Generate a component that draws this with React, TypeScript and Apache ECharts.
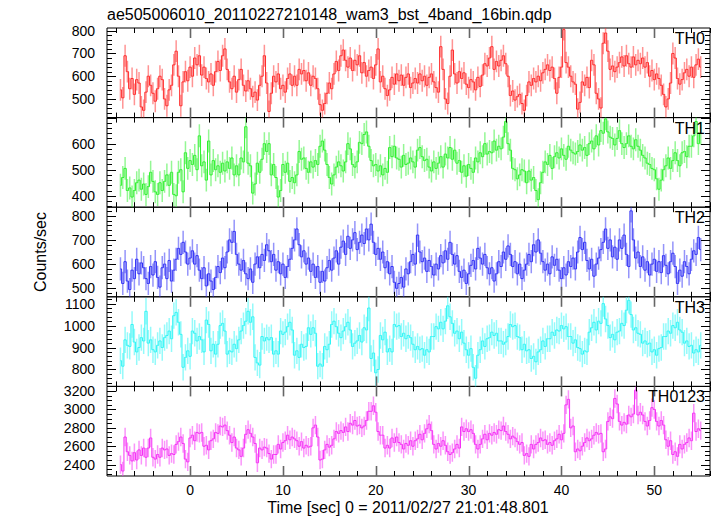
import React, { useEffect, useRef } from "react";
import * as echarts from "echarts";

const TITLE = "ae505006010_20110227210148_wam3_bst_4band_16bin.qdp";
const X_NAME = "Time [sec] 0 = 2011/02/27 21:01:48.801";
const Y_NAME = "Counts/sec";
const PANEL_NAMES = ["TH0", "TH1", "TH2", "TH3", "TH0123"];

const T_START = -7.5;
const BIN = 0.25;
const X_MIN = -8.95;
const X_MAX = 56.0;
const X_LABELS = [0, 10, 20, 30, 40, 50];

const Y_MIN = [418, 356, 465, 723, 2276];
const Y_MAX = [812, 700, 835, 1131, 3251];
const Y_LABELS = [
  [500, 600, 700, 800],
  [400, 500, 600],
  [500, 600, 700, 800],
  [800, 900, 1000, 1100],
  [2400, 2600, 2800, 3000, 3200],
];
const Y_MINOR_STEP = [20, 20, 20, 20, 50];
const ERR_HALF = [48, 44, 48, 60, 100];

const th0 = [
  540, 505, 690, 620, 545, 590, 520, 585, 570, 465, 450, 530, 600, 560, 525, 490,
  545, 600, 585, 500, 470, 540, 560, 650, 710, 600, 470, 575, 620, 580, 640, 600,
  680, 650, 690, 605, 640, 590, 575, 610, 560, 620, 665, 625, 690, 720, 630, 575,
  545, 600, 530, 585, 630, 560, 535, 580, 545, 510, 530, 495, 560, 600, 690, 570,
  445, 525, 600, 575, 610, 545, 560, 530, 590, 610, 560, 600, 560, 630, 610, 625,
  580, 615, 560, 600, 590, 545, 475, 450, 480, 525, 570, 545, 610, 665, 625, 690,
  715, 670, 640, 680, 625, 670, 650, 690, 615, 660, 600, 625, 640, 590, 650, 720,
  575, 600, 545, 515, 540, 595, 565, 610, 580, 605, 560, 595, 610, 550, 570, 590,
  570, 610, 580, 600, 560, 595, 610, 575, 550, 530, 730, 630, 500, 480, 600, 715,
  610, 570, 620, 590, 615, 565, 550, 585, 575, 540, 595, 555, 605, 655, 645, 680,
  730, 630, 665, 645, 670, 690, 655, 600, 515, 535, 495, 510, 520, 480, 450, 515,
  575, 560, 590, 575, 600, 580, 615, 630, 650, 625, 640, 590, 525, 595, 640, 805,
  660, 640, 600, 575, 565, 455, 485, 575, 560, 595, 550, 670, 650, 525, 500, 460,
  745, 790, 710, 630, 645, 620, 640, 660, 685, 645, 690, 655, 640, 685, 650, 670,
  655, 680, 640, 660, 600, 625, 585, 610, 590, 560, 520, 465, 500, 570, 700, 680,
  590, 565, 585, 615, 630, 600, 640, 595, 650, 675, 640,
];

const th1 = [
  440, 470, 505, 420, 430, 395, 420, 450, 460, 425, 445, 405, 435, 490, 455, 415,
  405, 450, 420, 455, 480, 440, 490, 405, 400, 490, 500, 415, 565, 505, 535, 520,
  555, 500, 630, 515, 530, 460, 610, 480, 535, 500, 515, 490, 525, 495, 530, 505,
  545, 480, 515, 480, 545, 530, 665, 525, 515, 410, 445, 525, 490, 540, 600, 570,
  600, 480, 520, 470, 395, 420, 520, 490, 525, 455, 470, 450, 480, 570, 540, 545,
  505, 490, 530, 510, 535, 520, 590, 610, 575, 520, 470, 445, 480, 510, 530, 515,
  495, 530, 600, 580, 520, 510, 530, 605, 600, 635, 645, 590, 535, 515, 520, 495,
  515, 480, 505, 490, 585, 550, 590, 545, 540, 510, 555, 520, 525, 545, 530, 510,
  575, 585, 550, 535, 540, 510, 495, 530, 505, 525, 550, 510, 560, 545, 585, 540,
  575, 525, 535, 490, 515, 475, 520, 505, 490, 545, 530, 565, 550, 600, 560, 570,
  565, 610, 575, 590, 580, 625, 685, 600, 575, 505, 500, 465, 480, 500, 495, 450,
  495, 460, 470, 420, 385, 450, 490, 530, 520, 555, 505, 550, 565, 545, 580, 555,
  540, 590, 575, 565, 560, 570, 595, 575, 585, 555, 600, 610, 580, 630, 595, 650,
  640, 695, 645, 625, 620, 595, 620, 650, 600, 585, 600, 630, 590, 580, 615, 590,
  575, 555, 545, 525, 520, 505, 500, 465, 425, 460, 500, 515, 545, 505, 535, 565,
  535, 515, 565, 570, 550, 590, 590, 630, 685, 600, 640,
];

const th2 = [
  580, 520, 610, 530, 495, 575, 540, 620, 560, 605, 585, 540, 520, 590, 555, 610,
  545, 505, 585, 600, 540, 615, 530, 575, 620, 665, 640, 690, 650, 600, 625, 655,
  600, 635, 575, 540, 585, 510, 560, 530, 495, 545, 590, 565, 625, 585, 650, 700,
  690, 735, 640, 600, 575, 615, 560, 540, 580, 525, 600, 630, 585, 640, 615, 680,
  655, 610, 640, 575, 610, 560, 600, 545, 590, 620, 665, 700, 745, 680, 630, 655,
  600, 625, 570, 600, 545, 590, 525, 570, 530, 585, 615, 575, 625, 655, 600, 670,
  695, 640, 715, 665, 700, 730, 660, 690, 720, 685, 745, 700, 765, 690, 640, 665,
  620, 650, 585, 610, 560, 590, 525, 500, 520, 545, 505, 580, 560, 610, 640, 600,
  720, 650, 610, 625, 570, 615, 590, 555, 600, 580, 635, 605, 655, 620, 690, 640,
  600, 635, 570, 545, 575, 520, 560, 595, 615, 580, 665, 625, 600, 640, 585, 560,
  585, 530, 560, 610, 590, 650, 620, 675, 640, 590, 610, 560, 600, 540, 575, 600,
  640, 610, 680, 650, 700, 645, 610, 575, 600, 560, 630, 595, 620, 575, 540, 585,
  555, 610, 590, 625, 580, 650, 710, 660, 690, 615, 580, 620, 550, 600, 625, 660,
  690, 745, 665, 700, 630, 670, 620, 700, 665, 720, 640, 590, 820, 700, 625, 650,
  590, 630, 575, 610, 555, 600, 620, 570, 610, 565, 635, 595, 560, 610, 645, 590,
  520, 575, 550, 610, 590, 560, 620, 655, 640, 710, 660,
];

const th3 = [
  840, 815, 935, 910, 905, 1005, 925, 880, 900, 945, 930, 1065, 920, 935, 890, 880,
  910, 930, 900, 945, 955, 975, 940, 1045, 1060, 1015, 960, 810, 855, 885, 860, 975,
  965, 930, 950, 935, 880, 1025, 1005, 885, 915, 870, 915, 1000, 1010, 975, 870, 885,
  880, 915, 895, 935, 975, 1000, 1020, 1065, 1015, 1040, 855, 830, 820, 950, 930, 945,
  935, 945, 870, 885, 870, 975, 960, 970, 995, 1015, 980, 865, 885, 855, 915, 900,
  905, 990, 960, 990, 965, 815, 825, 815, 905, 890, 915, 1005, 1020, 995, 965, 945,
  975, 995, 1015, 980, 905, 920, 930, 955, 925, 990, 980, 1080, 850, 875, 785, 800,
  955, 935, 970, 880, 895, 880, 1005, 995, 1000, 950, 965, 940, 955, 945, 915, 890,
  905, 890, 895, 865, 890, 880, 950, 950, 995, 985, 1015, 985, 1020, 1090, 1040, 1010,
  965, 975, 940, 970, 920, 890, 865, 895, 810, 760, 865, 890, 930, 905, 940, 945,
  970, 955, 965, 930, 930, 915, 925, 950, 1005, 995, 1000, 950, 945, 890, 915, 885,
  890, 850, 860, 835, 880, 890, 930, 905, 940, 940, 970, 955, 980, 975, 1000, 985,
  995, 950, 950, 920, 935, 900, 895, 870, 885, 880, 970, 990, 1015, 980, 1020, 1010,
  1100, 1030, 1000, 945, 960, 935, 970, 975, 1010, 1000, 1070, 1115, 1050, 980, 990, 965,
  960, 920, 930, 915, 920, 880, 890, 865, 895, 900, 950, 950, 975, 965, 1000, 990,
  1015, 980, 970, 920, 930, 905, 910, 875, 890, 880, 910,
];

const th0123 = [
  2400, 2330, 2700, 2540, 2500, 2440, 2530, 2450, 2560, 2500, 2580, 2480, 2580, 2690, 2480, 2460,
  2510, 2480, 2580, 2560, 2570, 2500, 2520, 2510, 2620, 2650, 2700, 2630, 2460, 2430, 2690, 2720,
  2660, 2750, 2740, 2750, 2600, 2610, 2560, 2660, 2680, 2750, 2740, 2820, 2810, 2830, 2770, 2720,
  2640, 2700, 2580, 2560, 2490, 2580, 2730, 2780, 2740, 2700, 2630, 2420, 2580, 2560, 2590, 2580,
  2520, 2460, 2510, 2510, 2620, 2570, 2640, 2660, 2720, 2670, 2700, 2680, 2660, 2600, 2650, 2580,
  2610, 2590, 2600, 2800, 2830, 2700, 2450, 2460, 2560, 2620, 2590, 2610, 2680, 2760, 2740, 2770,
  2750, 2810, 2760, 2850, 2830, 2880, 2820, 2830, 2800, 2820, 2880, 2980, 2980, 3040, 2970, 2760,
  2720, 2720, 2580, 2610, 2580, 2690, 2640, 2700, 2640, 2620, 2570, 2630, 2610, 2660, 2600, 2660,
  2680, 2730, 2670, 2740, 2790, 2840, 2770, 2620, 2570, 2630, 2600, 2660, 2610, 2540, 2510, 2530,
  2570, 2620, 2580, 2810, 2760, 2790, 2760, 2780, 2740, 2620, 2570, 2620, 2680, 2730, 2670, 2740,
  2720, 2750, 2730, 2780, 2770, 2820, 2760, 2730, 2680, 2710, 2690, 2650, 2620, 2640, 2500, 2520,
  2490, 2620, 2570, 2620, 2640, 2690, 2660, 2670, 2620, 2640, 2610, 2660, 2680, 2730, 2670, 2740,
  3050, 3110, 2800, 2820, 2540, 2570, 2550, 2600, 2640, 2690, 2660, 2680, 2720, 2750, 2730, 2740,
  2540, 2570, 2870, 2920, 2900, 3120, 3060, 2870, 2830, 2860, 2840, 2940, 2920, 2950, 3210, 2940,
  2970, 2940, 2870, 2820, 2880, 3020, 3000, 2870, 2820, 2880, 2830, 2670, 2600, 2660, 2510, 2540,
  2490, 2620, 2570, 2620, 2640, 2690, 2660, 2960, 2760, 2790, 2770,
];

const PANEL_VALUES = [th0, th1, th2, th3, th0123];
const LINE_COLORS = ["#ff2a2a", "#2ef02e", "#2f2ff5", "#2ff5f5", "#f52ff5"];
const ERR_COLORS = ["rgba(255,60,60,0.55)", "rgba(60,240,60,0.55)", "rgba(60,60,245,0.55)", "rgba(60,245,245,0.55)", "rgba(245,60,245,0.55)"];

const GRID_LEFT = 107;
const GRID_RIGHT = 7;
const GRID_TOP = 28;
const PANEL_H = 89.6;
const FONT = "Liberation Sans, Arial, Helvetica, sans-serif";

function stepValues(min: number, max: number, step: number) {
  const out: number[] = [];
  const start = Math.ceil(min / step) * step;
  for (let v = start; v <= max + 1e-9; v += step) out.push(v);
  return out;
}
function isMultiple(v: number, m: number) {
  return Math.abs(v / m - Math.round(v / m)) < 1e-6;
}

export default function App() {
  const ref = useRef<HTMLDivElement>(null);
  useEffect(() => {
    if (!ref.current) return;
    const chart = echarts.init(ref.current, undefined, { renderer: "svg" });
    const grids: any[] = [];
    const xAxes: any[] = [];
    const yAxes: any[] = [];
    const series: any[] = [];
    const xAll = stepValues(X_MIN, X_MAX, 2);

    for (let i = 0; i < 5; i++) {
      grids.push({
        left: GRID_LEFT,
        right: GRID_RIGHT,
        top: GRID_TOP + i * PANEL_H,
        height: PANEL_H,
        show: true,
        borderColor: "#000",
        borderWidth: 1,
        backgroundColor: "transparent",
      });
      xAxes.push({
        type: "value",
        gridIndex: i,
        position: "bottom",
        min: X_MIN,
        max: X_MAX,
        axisLine: { show: false, onZero: false },
        splitLine: { show: false },
        axisTick: { show: false },
        axisLabel:
          i === 4
            ? {
                show: true,
                customValues: X_LABELS,
                margin: 7,
                fontSize: 14,
                color: "#000",
                fontFamily: FONT,
                formatter: (v: number) => String(v),
              }
            : { show: false },
      });
      yAxes.push({
        type: "value",
        gridIndex: i,
        position: "left",
        min: Y_MIN[i],
        max: Y_MAX[i],
        axisLine: { show: false, onZero: false },
        splitLine: { show: false },
        axisTick: { show: false },
        axisLabel: {
          show: true,
          customValues: Y_LABELS[i],
          margin: 12,
          fontSize: 14,
          color: "#000",
          fontFamily: FONT,
          formatter: (v: number) => String(v),
        },
      });

      const vals = PANEL_VALUES[i];
      const pts = vals.map((v, k) => [T_START + k * BIN, v]);
      const errs = vals.map((v, k) => [T_START + k * BIN, v, v - ERR_HALF[i], v + ERR_HALF[i]]);
      const errColor = ERR_COLORS[i];
      series.push({
        type: "custom",
        xAxisIndex: i,
        yAxisIndex: i,
        clip: true,
        data: errs,
        encode: { x: 0, y: [1, 2, 3] },
        renderItem: (params: any, api: any) => {
          const lo = api.coord([api.value(0), api.value(2)]);
          const hi = api.coord([api.value(0), api.value(3)]);
          return {
            type: "line",
            shape: { x1: lo[0], y1: lo[1], x2: hi[0], y2: hi[1] },
            style: { stroke: errColor, lineWidth: 1.5 },
          };
        },
      });
      series.push({
        type: "line",
        xAxisIndex: i,
        yAxisIndex: i,
        data: pts,
        step: "middle",
        symbol: "none",
        clip: true,
        lineStyle: { color: LINE_COLORS[i], width: 1 },
      });

      const yMin = Y_MIN[i];
      const yMax = Y_MAX[i];
      const majorStep = Y_LABELS[i][1] - Y_LABELS[i][0];
      const yTickData = stepValues(yMin, yMax, Y_MINOR_STEP[i]).map((v) => [X_MIN, v]);
      const xTickData = xAll.map((t) => [t, yMin]);

      series.push({
        type: "custom",
        xAxisIndex: i,
        yAxisIndex: i,
        clip: false,
        silent: true,
        z: 5,
        data: yTickData,
        encode: { x: 0, y: 1 },
        renderItem: (params: any, api: any) => {
          const v = api.value(1);
          const a = api.coord([X_MIN, v]);
          const b = api.coord([X_MAX, v]);
          const L = isMultiple(v, majorStep) ? 9 : 5;
          const y = Math.round(a[1]) + 0.5;
          return {
            type: "group",
            children: [
              { type: "line", shape: { x1: a[0], y1: y, x2: a[0] + L, y2: y }, style: { stroke: "#000", lineWidth: 1 } },
              { type: "line", shape: { x1: b[0], y1: y, x2: b[0] - L, y2: y }, style: { stroke: "#000", lineWidth: 1 } },
            ],
          };
        },
      });
      series.push({
        type: "custom",
        xAxisIndex: i,
        yAxisIndex: i,
        clip: false,
        silent: true,
        z: 5,
        data: xTickData,
        encode: { x: 0, y: 1 },
        renderItem: (params: any, api: any) => {
          const t = api.value(0);
          const a = api.coord([t, yMin]);
          const b = api.coord([t, yMax]);
          const major = isMultiple(t, 10);
          const L = major ? 10 : 5;
          const x = Math.round(a[0]) + 0.5;
          const st = { stroke: major ? "#666" : "#000", lineWidth: major ? 1.6 : 1 };
          return {
            type: "group",
            children: [
              { type: "line", shape: { x1: x, y1: a[1], x2: x, y2: a[1] - L }, style: st },
              { type: "line", shape: { x1: x, y1: b[1], x2: x, y2: b[1] + L }, style: st },
            ],
          };
        },
      });
    }

    const graphic: any[] = [
      {
        type: "text",
        x: 107,
        y: 14,
        style: { text: TITLE, font: `16px ${FONT}`, fill: "#000", textAlign: "left", textVerticalAlign: "middle" },
      },
      {
        type: "text",
        x: 408,
        y: 507,
        style: { text: X_NAME, font: `16px ${FONT}`, fill: "#000", textAlign: "center", textVerticalAlign: "middle" },
      },
      {
        type: "text",
        x: 40,
        y: 252,
        rotation: Math.PI / 2,
        style: { text: Y_NAME, font: `16px ${FONT}`, fill: "#000", textAlign: "center", textVerticalAlign: "middle" },
      },
    ];
    PANEL_NAMES.forEach((name, i) => {
      graphic.push({
        type: "text",
        x: 705,
        y: GRID_TOP + i * PANEL_H + 10.5,
        z: 100,
        style: { text: name, font: `16px ${FONT}`, fill: "#000", textAlign: "right", textVerticalAlign: "middle" },
      });
    });

    chart.setOption({
      animation: false,
      backgroundColor: "#fff",
      grid: grids,
      xAxis: xAxes,
      yAxis: yAxes,
      series,
      graphic,
    });
    return () => chart.dispose();
  }, []);
  return <div ref={ref} style={{ position: "absolute", left: 0, top: 0, width: 717, height: 516 }} />;
}
